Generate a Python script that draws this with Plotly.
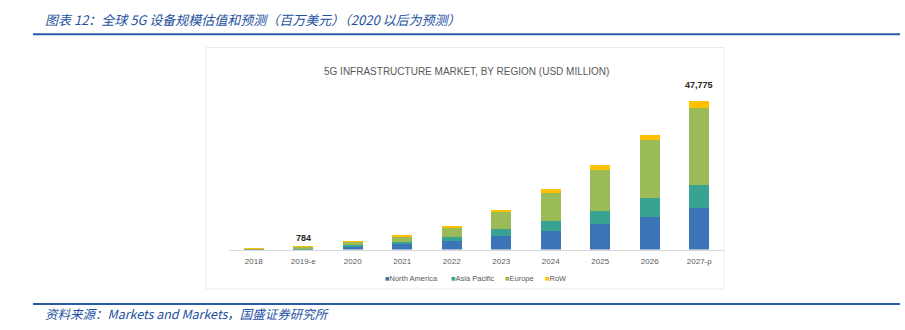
import plotly.graph_objects as go

# 5G infrastructure market by region, USD million
years = ["2018", "2019-e", "2020", "2021", "2022", "2023", "2024", "2025", "2026", "2027-p"]
north_america = [30, 60, 960, 1830, 2800, 4280, 6110, 8130, 10480, 13280]
asia_pacific = [20, 40, 550, 740, 1190, 2250, 3090, 4280, 6110, 7620]
europe = [300, 624, 870, 1610, 3090, 5470, 9000, 13310, 18550, 24755]
row = [30, 60, 190, 320, 640, 870, 1410, 1380, 1610, 2120]

series = [
    ("North America", north_america, "#3d74b6"),
    ("Asia Pacific", asia_pacific, "#39a393"),
    ("Europe", europe, "#9bbb59"),
    ("RoW", row, "#ffc000"),
]

W, H = 905, 330
px_x = lambda v: v / W
px_y = lambda v: 1 - v / H

fig = go.Figure()
for name, vals, color in series:
    fig.add_trace(go.Bar(x=years, y=vals, name=name, marker_color=color,
                         marker_line_width=0, showlegend=False))

totals = [a + b + c + d for a, b, c, d in zip(north_america, asia_pacific, europe, row)]

fig.update_layout(
    width=W, height=H,
    margin=dict(l=0, r=0, t=0, b=0),
    paper_bgcolor="white", plot_bgcolor="white",
    barmode="stack", bargap=0.6,
    font=dict(family="Liberation Sans", color="#595959"),
    xaxis=dict(domain=[px_x(229), px_x(724)], showline=True, linecolor="#d9d9d9",
               linewidth=1, ticks="", ticklabelstandoff=4,
               tickfont=dict(size=8, color="#595959"),
               showgrid=False, zeroline=False, fixedrange=True),
    yaxis=dict(domain=[px_y(249.5), px_y(94.3)], range=[0, 50000], visible=False,
               showgrid=False, zeroline=False, fixedrange=True),
)

# Chart frame and report rules
fig.add_shape(type="rect", xref="paper", yref="paper",
              x0=px_x(206), x1=px_x(724), y0=px_y(289), y1=px_y(47.5),
              line=dict(color="#ebebeb", width=1), layer="below")
for yy in (34.3, 304):
    fig.add_shape(type="line", xref="paper", yref="paper",
                  x0=px_x(33), x1=px_x(900), y0=px_y(yy), y1=px_y(yy),
                  line=dict(color="#2b5ba6", width=2))

ann = []
# Report headings
ann.append(dict(x=px_x(43), y=px_y(19), xref="paper", yref="paper", xanchor="left",
                yanchor="middle", showarrow=False,
                text="<i>图表 12：全球 5G 设备规模估值和预测（百万美元）（2020 以后为预测）</i>",
                font=dict(family="Noto Sans CJK SC", size=13, color="#2450a0")))
ann.append(dict(x=px_x(43), y=px_y(313), xref="paper", yref="paper", xanchor="left",
                yanchor="middle", showarrow=False,
                text="<i>资料来源：Markets and Markets，国盛证券研究所</i>",
                font=dict(family="Noto Sans CJK SC", size=12.5, color="#2450a0")))
# Chart title
ann.append(dict(x=px_x(466), y=px_y(71.5), xref="paper", yref="paper", xanchor="center",
                yanchor="middle", showarrow=False,
                text="5G INFRASTRUCTURE MARKET, BY REGION (USD MILLION)",
                font=dict(size=10, color="#595959")))
# Total labels
for i, sh in ((1, 2), (9, 9)):
    ann.append(dict(x=years[i], y=totals[i], xref="x", yref="y", xanchor="center",
                    yanchor="bottom", yshift=sh, showarrow=False,
                    text=f"<b>{totals[i]:,}</b>", font=dict(size=9, color="#262626")))
# Legend
leg_x = [383, 449, 503, 543]
for (name, _, color), lx in zip(series, leg_x):
    ann.append(dict(x=px_x(lx), y=px_y(278), xref="paper", yref="paper", xanchor="left",
                    yanchor="middle", showarrow=False,
                    text=f"<span style='color:{color}'>■</span>{name}",
                    font=dict(size=7.5, color="#595959")))
fig.update_layout(annotations=ann)

fig.write_html("out.html")
